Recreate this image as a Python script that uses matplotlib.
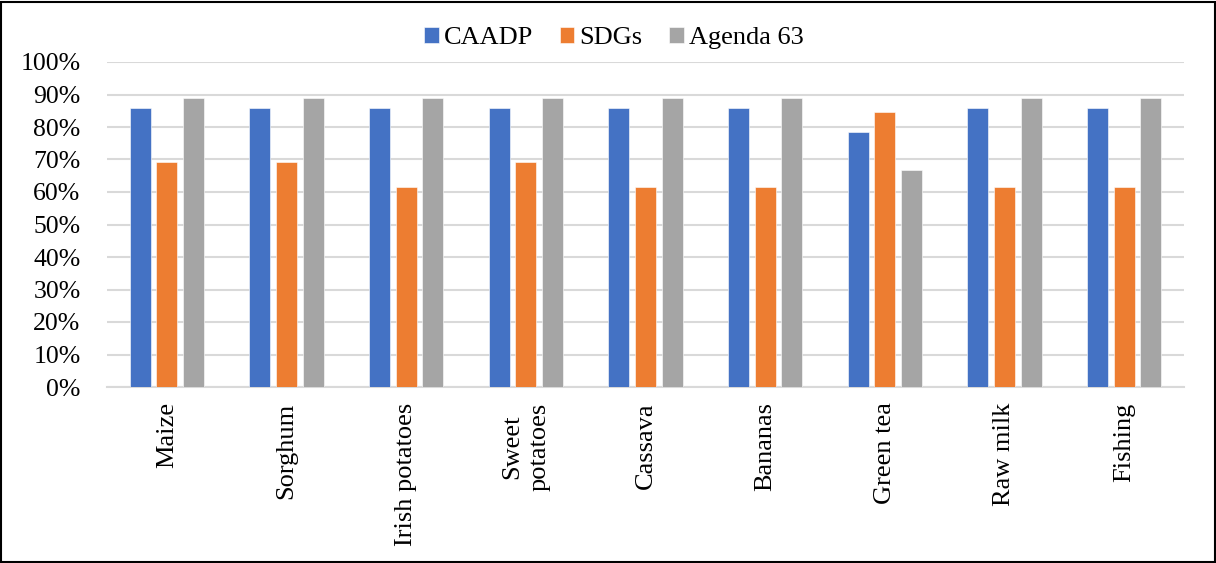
import matplotlib
matplotlib.use("Agg")
import matplotlib.pyplot as plt
from matplotlib.patches import Rectangle
from matplotlib.ticker import PercentFormatter
import numpy as np

categories = ["Maize", "Sorghum", "Irish potatoes", "Sweet\npotatoes", "Cassava",
              "Bananas", "Green tea", "Raw milk", "Fishing"]
caadp = [85.7, 85.7, 85.7, 85.7, 85.7, 85.7, 78.6, 85.7, 85.7]
sdgs = [69.2, 69.2, 61.5, 69.2, 61.5, 61.5, 84.6, 61.5, 61.5]
agenda63 = [88.9, 88.9, 88.9, 88.9, 88.9, 88.9, 66.7, 88.9, 88.9]
series_names = ["CAADP", "SDGs", "Agenda 63"]
colors = ["#4472C4", "#ED7D31", "#A5A5A5"]

plt.rcParams["font.family"] = ["Liberation Serif", "DejaVu Serif"]

W, H = 1216, 563
fig = plt.figure(figsize=(W / 100, H / 100), dpi=100)
ax = fig.add_axes([107 / W, 1 - 387 / H, (1184 - 107) / W, (387 - 62) / H])

x = np.arange(len(categories))
width = 0.175
offset = 0.223
for i, (vals, name, c) in enumerate(zip([caadp, sdgs, agenda63], series_names, colors)):
    ax.bar(x + (i - 1) * offset, np.array(vals) / 100, width, color=c, label=name,
           edgecolor="white", linewidth=0.4, zorder=3)

ax.set_xlim(-0.5, len(categories) - 0.5)
ax.set_ylim(0, 1)
ax.set_yticks(np.arange(0, 1.01, 0.1))
ax.yaxis.set_major_formatter(PercentFormatter(1.0, decimals=0))
ax.grid(axis="y", color="#D9D9D9", linewidth=1.5, zorder=0)
for s in ["top", "right", "left"]:
    ax.spines[s].set_visible(False)
ax.spines["bottom"].set_color("#D9D9D9")
ax.spines["bottom"].set_linewidth(1.5)
ax.tick_params(axis="both", length=0, colors="black")
ax.tick_params(axis="y", pad=19, labelsize=18.5)
ax.tick_params(axis="x", pad=11, labelsize=19)
ax.set_xticks(x)
ax.set_xticklabels(categories, rotation=90, multialignment="center", linespacing=1.35)

fig.legend(loc="center", bbox_to_anchor=(614 / W, 1 - 38 / H), ncol=3, frameon=False,
           fontsize=19, handlelength=0.55, handleheight=0.55, handletextpad=0.2,
           columnspacing=1.0)

fig.patches.append(Rectangle((1 / W, 1 / H), 1 - 2.5 / W, 1 - 2.5 / H, transform=fig.transFigure,
                             fill=False, edgecolor="black", linewidth=1.5))

fig.savefig("out.png", dpi=100)
